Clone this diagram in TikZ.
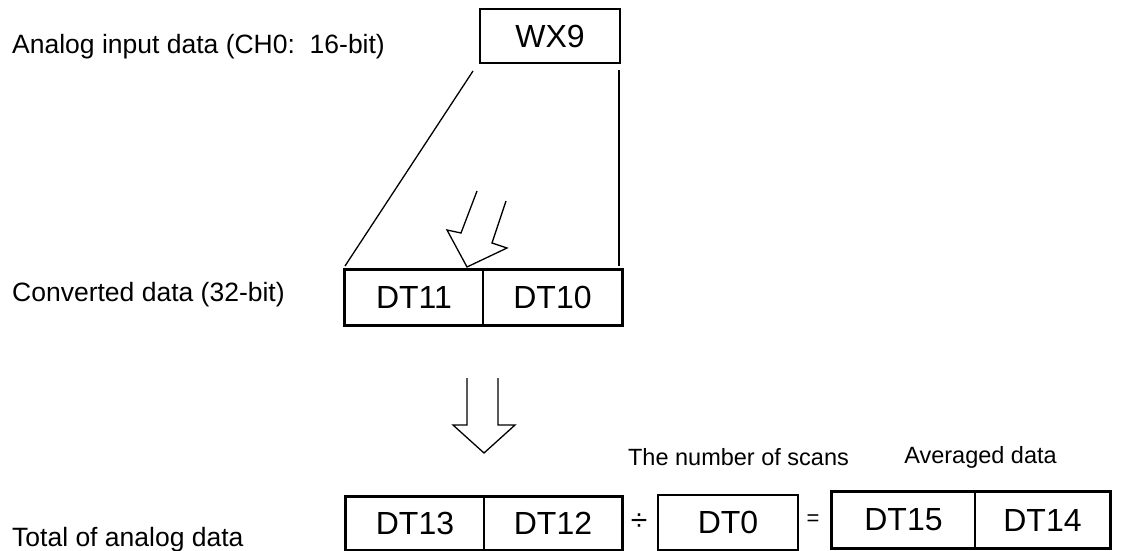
\documentclass[tikz,border=0pt]{standalone}
\usepackage{fontspec}
\setmainfont{Liberation Sans}
\begin{document}
\begin{tikzpicture}[x=1pt,y=-1pt,
  cell/.style={draw,line width=1.1pt,inner sep=0pt,minimum height=#1,font=\fontsize{32}{36}\selectfont},
  cell/.default=52pt,
  outer/.style={line width=2.2pt},
  thin/.style={line width=1.3pt},
  lbl/.style={anchor=base west,inner sep=0pt,font=\fontsize{26.5}{30}\selectfont},
  small/.style={anchor=base,inner sep=0pt,font=\fontsize{23.5}{27}\selectfont},
  op/.style={inner sep=0pt,font=\fontsize{30}{32}\selectfont}]
\useasboundingbox[fill=white] (0,0) rectangle (1121,551);

% labels on the left
\node[lbl] (l1) at (12,54) {Analog input data (CH0:\ \ 16-bit)};
\node[lbl] (l2) at (12,301) {Converted data (32-bit)};
\node[lbl] (l3) at (12,546) {Total of analog data};

% WX9
\node[cell=54pt,minimum width=140pt,line width=2.2pt] (wx9) at (550,36) {WX9};

% converted data
\node[cell=55pt,minimum width=138pt] (dt11) at (414,297.5) {DT11};
\node[cell=55pt,minimum width=139pt] (dt10) at (552.5,297.5) {DT10};
\draw[outer] (dt11.north west) rectangle (dt10.south east);

% trapezoid lines
\coordinate (a1) at (473,71);
\coordinate (a2) at (345,266);
\coordinate (b1) at (619,70);
\coordinate (b2) at (619,266);
\draw[thin] (a1) -- (a2);
\draw[thin] (b1) -- (b2);

% tilted hollow arrow
\draw[thin,line join=miter] (477,191) -- (461,233) -- (447,230) -- (467,267) -- (507,248) -- (492,243) -- (506,201);

% down hollow arrow
\draw[thin,line join=miter] (467,378) -- (467,425) -- (453,425) -- (484,453) -- (515,425) -- (498,425) -- (498,378);

% bottom row
\node[small] (scans) at (738.5,465) {The number of scans};
\node[small] (avg) at (980.5,463) {Averaged data};

\node[cell=53pt,minimum width=138pt] (dt13) at (415,523.5) {DT13};
\node[cell=53pt,minimum width=138pt] (dt12) at (553,523.5) {DT12};
\draw[outer] (dt13.north west) rectangle (dt12.south east);

\node[op] (div) at (639,522) {÷};

\node[cell=55pt,minimum width=140pt,line width=2.2pt] (dt0) at (728,522.5) {DT0};

\node[op,font=\fontsize{22}{24}\selectfont] (eq) at (813,520) {=};

\node[cell=56pt,minimum width=143pt] (dt15) at (903.5,520) {DT15};
\node[cell=56pt,minimum width=135pt] (dt14) at (1042.5,520) {DT14};
\draw[outer] (dt15.north west) rectangle (dt14.south east);
\end{tikzpicture}
\end{document}
